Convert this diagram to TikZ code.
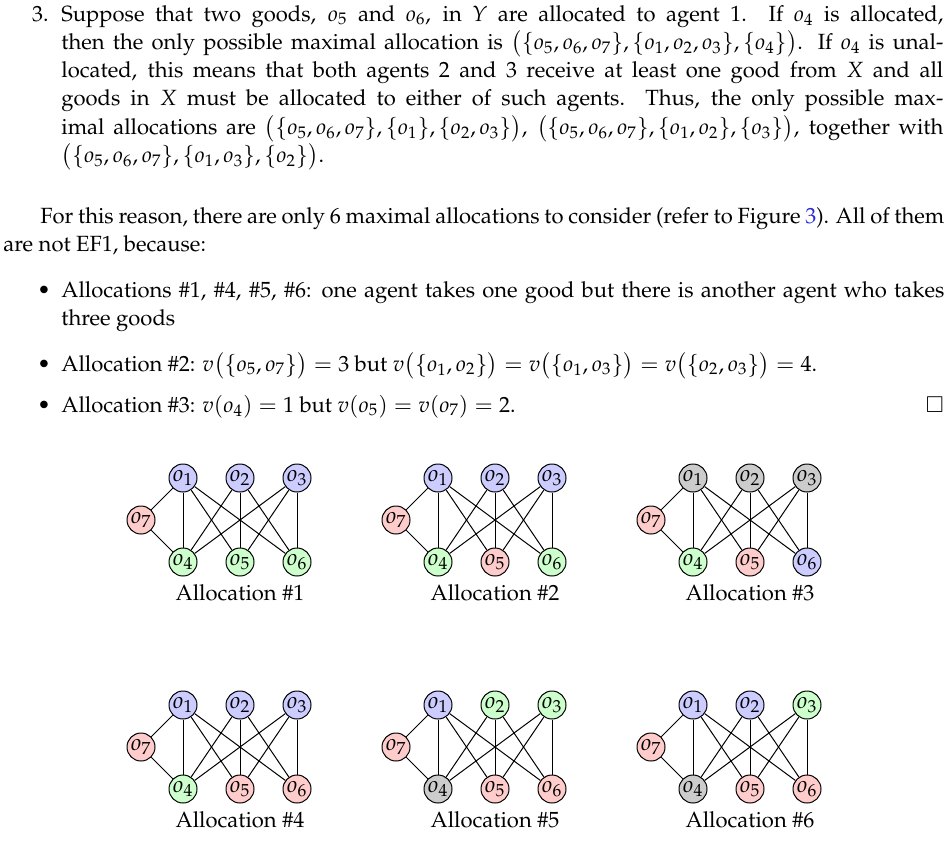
\documentclass[tikz,border=0pt]{standalone}
\usepackage[T1]{fontenc}
\usepackage{mathpazo}
\usepackage{amsmath, amssymb}
\definecolor{agred}{RGB}{255,204,204}
\definecolor{agblue}{RGB}{204,204,255}
\definecolor{aggreen}{RGB}{204,255,204}
\definecolor{nogood}{RGB}{204,204,204}
\definecolor{linkcol}{RGB}{40,40,210}
\newcommand{\bodyfont}{\fontsize{11}{14.15}\selectfont}
\tikzset{
  good/.style={circle, draw, line width=0.5pt, inner sep=0pt, minimum size=14pt, font=\fontsize{11.5}{14}\selectfont},
  para/.style={inner sep=0pt, anchor=base west, align=justify, font=\bodyfont},
  alloclabel/.style={inner sep=0pt, font=\bodyfont},
}
% one allocation: number, position of o1, fills of o1..o7
\newcommand{\allocgraph}[9]{%
\begin{scope}[shift={(#2)}]
\node[good, fill=#3] (a#1o1) at (0,0) {$o_1$};
\node[good, fill=#4] (a#1o2) at (57,0) {$o_2$};
\node[good, fill=#5] (a#1o3) at (114,0) {$o_3$};
\node[good, fill=#6] (a#1o4) at (0,84) {$o_4$};
\node[good, fill=#7] (a#1o5) at (57,84) {$o_5$};
\node[good, fill=#8] (a#1o6) at (114,84) {$o_6$};
\node[good, fill=#9] (a#1o7) at (-42,42) {$o_7$};
\draw[line width=0.5pt] (a#1o7) -- (a#1o1);
\draw[line width=0.5pt] (a#1o7) -- (a#1o4);
\foreach \x in {1,2,3}
  \foreach \y in {4,5,6}
    \draw[line width=0.5pt] (a#1o\x) -- (a#1o\y);
\node[alloclabel] (a#1lab) at (57,115) {Allocation \##1};
\end{scope}}

\begin{document}
\begin{tikzpicture}[x=0.5pt, y=-0.5pt]
\useasboundingbox (0,0) rectangle (951,846);

% case 3 of the proof
\node[inner sep=0pt, anchor=base east, font=\bodyfont] (itemnum) at (49,21) {3.};
\node[para, text width=441pt] (item3) at (61,21) {Suppose that two goods, $o_5$ and $o_6$, in $Y$ are allocated to agent 1. If $o_4$ is allocated,\linebreak
then the only possible maximal allocation is $\bigl(\{o_5,o_6,o_7\},\{o_1,o_2,o_3\},\{o_4\}\bigr)$. If $o_4$ is unal-\linebreak
located, this means that both agents 2 and 3 receive at least one good from $X$ and all\linebreak
goods in $X$ must be allocated to either of such agents. Thus, the only possible max-\linebreak
imal allocations are $\bigl(\{o_5,o_6,o_7\},\{o_1\},\{o_2,o_3\}\bigr)$, $\bigl(\{o_5,o_6,o_7\},\{o_1,o_2\},\{o_3\}\bigr)$, together with\linebreak
$\bigl(\{o_5,o_6,o_7\},\{o_1,o_3\},\{o_2\}\bigr)$.};

% conclusion
\node[para, text width=470.5pt] (reason) at (3,223) {\hspace*{18.5pt}For this reason, there are only 6 maximal allocations to consider (refer to Figure~\textcolor{linkcol}{3}). All of them\linebreak
are not EF1, because:};

% bullets
\node[inner sep=0pt, anchor=base west, font=\bodyfont] (dot1) at (37,297) {\textbullet};
\node[para, text width=441.5pt] (bul1) at (61,297) {Allocations \#1, \#4, \#5, \#6: one agent takes one good but there is another agent who takes\linebreak
three goods};
\node[inner sep=0pt, anchor=base west, font=\bodyfont] (dot2) at (37,371) {\textbullet};
\node[para, text width=441.5pt] (bul2) at (61,371) {Allocation \#2: $v\bigl(\{o_5,o_7\}\bigr) = 3$ but $v\bigl(\{o_1,o_2\}\bigr) = v\bigl(\{o_1,o_3\}\bigr) = v\bigl(\{o_2,o_3\}\bigr) = 4$.};
\node[inner sep=0pt, anchor=base west, font=\bodyfont] (dot3) at (37,412) {\textbullet};
\node[para, text width=441.5pt] (bul3) at (61,412) {Allocation \#3: $v(o_4) = 1$ but $v(o_5) = v(o_7) = 2$.};
\node[inner sep=0pt, anchor=base east, font=\bodyfont] (qed) at (944,412) {$\square$};

% the six allocations
\allocgraph{1}{183,478}{agblue}{agblue}{agblue}{aggreen}{aggreen}{aggreen}{agred}
\allocgraph{2}{438,478}{agblue}{agblue}{agblue}{aggreen}{agred}{aggreen}{agred}
\allocgraph{3}{693,478}{nogood}{nogood}{nogood}{aggreen}{agred}{agblue}{agred}
\allocgraph{4}{183,705}{agblue}{agblue}{agblue}{aggreen}{agred}{agred}{agred}
\allocgraph{5}{438,705}{agblue}{aggreen}{aggreen}{nogood}{agred}{agred}{agred}
\allocgraph{6}{693,705}{agblue}{agblue}{aggreen}{nogood}{agred}{agred}{agred}
\end{tikzpicture}
\end{document}
